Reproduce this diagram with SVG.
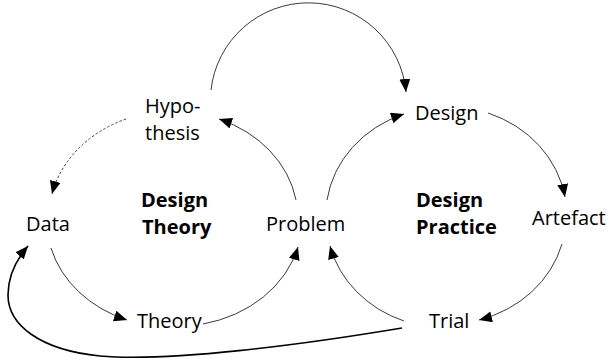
<svg xmlns="http://www.w3.org/2000/svg" width="613" height="364" viewBox="0 0 613 364">
  <style>
    .lbl { font-family: "Open Sans", "Liberation Sans", sans-serif; font-size: 20px; fill: #000; }
    .bold { font-weight: bold; }
    .arc { fill: none; stroke: #3a3a3a; stroke-width: 1; marker-end: url(#ah); }
    .dash { stroke-dasharray: 2.5 2; }
    .thick { fill: none; stroke: #000; stroke-width: 1.6; marker-end: url(#ah); }
  </style>
  <defs>
    <marker id="ah" markerUnits="userSpaceOnUse" markerWidth="14" markerHeight="12" refX="13" refY="5.5" orient="auto">
      <path d="M0,0 L13,5.5 L0,11 z" fill="#000"/>
    </marker>
  </defs>
  <rect width="613" height="364" fill="#fff"/>

  <g id="connectors">
    <!-- Design Theory cycle -->
    <path class="arc dash" d="M126,119 A125,106 0 0 0 52,194"/>
    <path class="arc" d="M51,248 A125,106 0 0 0 127,320"/>
    <path class="arc" d="M203,324 A125,106 0 0 0 298,247"/>
    <path class="arc" d="M296,200 A125,106 0 0 0 219,119"/>
    <!-- Design Practice cycle -->
    <path class="arc" d="M327,200 A119,108 0 0 1 404,114"/>
    <path class="arc" d="M488,113 A119,108 0 0 1 565,197"/>
    <path class="arc" d="M562,244 A119,108 0 0 1 479,320"/>
    <path class="arc" d="M404,321 A119,108 0 0 1 330,246"/>
    <!-- Hypothesis to Design -->
    <path class="arc" d="M211,90 A98,98 0 0 1 406,92"/>
    <!-- Trial back to Data -->
    <path class="thick" d="M402,328 C300,345 170,362 100,356 C40,350 8,325 8,295 C8,275 16,260 28,246"/>
  </g>

  <g id="node-hypothesis">
    <text class="lbl" x="145" y="113">Hypo-</text>
    <text class="lbl" x="145" y="140">thesis</text>
  </g>
  <g id="node-data">
    <text class="lbl" x="26" y="231">Data</text>
  </g>
  <g id="node-theory">
    <text class="lbl" x="137" y="328">Theory</text>
  </g>
  <g id="node-problem">
    <text class="lbl" x="266" y="231">Problem</text>
  </g>
  <g id="node-design">
    <text class="lbl" x="415" y="120">Design</text>
  </g>
  <g id="node-artefact">
    <text class="lbl" x="532" y="225">Artefact</text>
  </g>
  <g id="node-trial">
    <text class="lbl" x="429" y="328">Trial</text>
  </g>
  <g id="label-design-theory">
    <text class="lbl bold" x="141" y="207">Design</text>
    <text class="lbl bold" x="142" y="234">Theory</text>
  </g>
  <g id="label-design-practice">
    <text class="lbl bold" x="416" y="207">Design</text>
    <text class="lbl bold" x="416" y="234">Practice</text>
  </g>
</svg>
